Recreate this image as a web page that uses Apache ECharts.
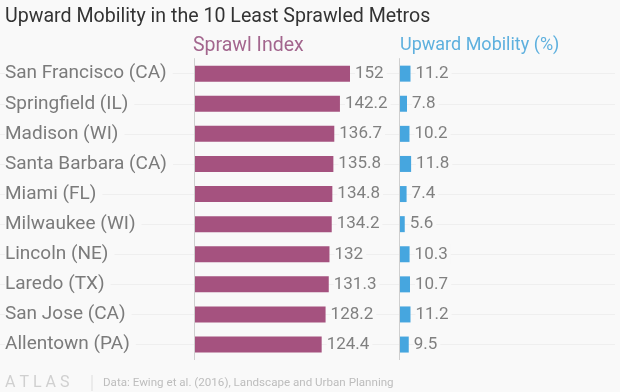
<!DOCTYPE html>
<html>
<head>
<meta charset="utf-8">
<script src="https://cdn.jsdelivr.net/npm/echarts@6/dist/echarts.min.js"></script>
<style>
html,body{margin:0;padding:0;background:#f9f9f9;}
#chart{width:620px;height:392px;}
</style>
</head>
<body>
<div id="chart"></div>
<script>
const categories = ['San Francisco (CA)', 'Springfield (IL)', 'Madison (WI)', 'Santa Barbara (CA)', 'Miami (FL)', 'Milwaukee (WI)', 'Lincoln (NE)', 'Laredo (TX)', 'San Jose (CA)', 'Allentown (PA)'];
const sprawlIndex = [152, 142.2, 136.7, 135.8, 134.8, 134.2, 132, 131.3, 128.2, 124.4];
const upwardMobility = [11.2, 7.8, 10.2, 11.8, 7.4, 5.6, 10.3, 10.7, 11.2, 9.5];
const titleText = 'Upward Mobility in the 10 Least Sprawled Metros';
const leftHeader = 'Sprawl Index';
const rightHeader = 'Upward Mobility (%)';
const sourceText = 'Data: Ewing et al. (2016), Landscape and Urban Planning';
const brandText = 'A T L A S';

const FONT = 'Roboto, "Noto Sans", sans-serif';
const BG = '#f9f9f9';
const chart = echarts.init(document.getElementById('chart'), null, {renderer: 'canvas'});

const gridTop = 58.6, gridHeight = 301;
const axisMax = 190;

const valueLabel = {show: true, position: 'right', distance: 5, color: '#808080', fontSize: 17, fontFamily: FONT,
  backgroundColor: BG, padding: [3, 3, 1, 0]};

const option = {
  backgroundColor: BG,
  animation: false,
  textStyle: {fontFamily: FONT},
  grid: [
    {left: 0, right: 5, top: gridTop, height: gridHeight},
    {left: 194, width: 195, top: gridTop, height: gridHeight},
    {left: 399, width: 195, top: gridTop, height: gridHeight}
  ],
  xAxis: [
    {gridIndex: 0, type: 'value', min: 0, max: 1, show: false},
    {gridIndex: 1, type: 'value', min: 0, max: axisMax, show: false},
    {gridIndex: 2, type: 'value', min: 0, max: axisMax, show: false}
  ],
  yAxis: [
    {gridIndex: 0, type: 'category', data: categories, inverse: true, show: false},
    {gridIndex: 1, type: 'category', data: categories, inverse: true, z: 5,
      axisLine: {show: true, lineStyle: {color: '#cfcfcf', width: 1}},
      axisTick: {show: false},
      splitLine: {show: false},
      axisLabel: {show: true, align: 'left', margin: 189, color: '#7b7b7b', fontSize: 19, fontFamily: FONT,
        backgroundColor: BG, padding: [4, 6, 2, 0]}
    },
    {gridIndex: 2, type: 'category', data: categories, inverse: true, z: 5,
      axisLine: {show: true, lineStyle: {color: '#cfcfcf', width: 1}},
      axisTick: {show: false},
      splitLine: {show: false},
      axisLabel: {show: false}
    }
  ],
  series: [
    {
      type: 'bar', xAxisIndex: 0, yAxisIndex: 0, z: 0,
      data: categories.map(() => 0),
      itemStyle: {color: 'transparent'},
      silent: true,
      markLine: {
        silent: true, symbol: 'none', animation: false, z: 0,
        label: {show: false},
        lineStyle: {color: '#efefef', width: 1, type: 'solid'},
        emphasis: {disabled: true},
        data: categories.map((c, i) => ({yAxis: i}))
      }
    },
    {
      type: 'bar', xAxisIndex: 1, yAxisIndex: 1, z: 3,
      data: sprawlIndex, barWidth: 16,
      itemStyle: {color: '#a5527f'},
      label: valueLabel
    },
    {
      type: 'bar', xAxisIndex: 2, yAxisIndex: 2, z: 3,
      data: upwardMobility, barWidth: 16,
      itemStyle: {color: '#46a6df'},
      label: valueLabel
    }
  ],
  graphic: [
    {type: 'text', left: 5, top: 7, z: 10, style: {text: titleText, font: '19.6px ' + FONT, fill: '#333333'}},
    {type: 'text', left: 193, top: 36, z: 10, style: {text: leftHeader, font: '19.5px ' + FONT, fill: '#a3668e'}},
    {type: 'text', left: 400, top: 36.5, z: 10, style: {text: rightHeader, font: '18px ' + FONT, fill: '#5eb0de'}},
    {type: 'text', left: 5, top: 375, z: 10, style: {text: brandText, font: '16px ' + FONT, fill: '#d0d0d0'}},
    {type: 'line', z: 10, shape: {x1: 92, y1: 375, x2: 92, y2: 391}, style: {stroke: '#dddddd', lineWidth: 1}},
    {type: 'text', left: 103, top: 377, z: 10, style: {text: sourceText, font: '11.6px ' + FONT, fill: '#bdbdbd'}}
  ]
};
chart.setOption(option);
</script>
</body>
</html>
